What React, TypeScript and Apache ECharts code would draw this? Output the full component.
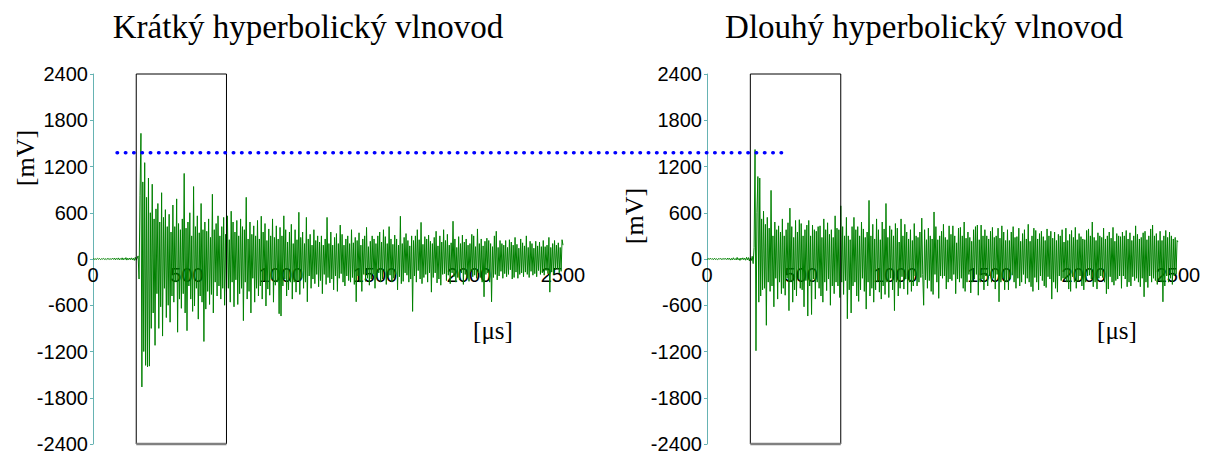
import React, { useEffect, useRef } from "react";
import * as echarts from "echarts";

const SAMPLE_STEP_US = 5;

// Short hyperbolic waveguide signal [mV], one sample every 5 µs from 0 µs (20 samples per row = 100 µs)
const SHORT_MV = [
  0, 4, -6, 3, -5, 8, -4, 6, -7, 3, -2, 7, -5, 4, -8, 6, -3, 5, -6, 4,
  -4, 9, -6, 12, -10, 7, -5, 14, -11, 6, -8, 15, -12, 9, -6, 18, -14, 10, -9, 13,
  -8, 15, -12, 10, -18, 22, -15, 12, 40, -260, 820, 1630, -1660, 1000, -1200, 1250, -1380, 800, -1400, 1050,
  -1390, 600, -900, 970, -700, 520, -1120, 650, -450, 720, -900, 480, -620, 860, -1000, 540, -380, 640, -760, 420,
  -600, 580, -820, 350, -480, 700, -560, 420, -300, 780, -950, 460, -520, 380, -640, 520, -450, 1110, -700, 400,
  -930, 480, -350, 600, -520, 300, -680, 940, -610, 420, -380, 560, -780, 340, -480, 720, -560, 380, -1070, 480,
  -650, 360, -420, 520, -590, 280, -460, 840, -700, 380, -300, 460, -480, 560, -350, 300, -520, 420, -380, 540,
  -600, 320, -420, 560, -380, 250, -560, 620, -300, 480, -620, 350, -270, 500, -590, 300, -450, 520, -380, 420,
  -800, 380, -300, 800, -520, 260, -420, 480, -700, 320, -250, 430, -560, 300, -380, 500, -480, 260, -350, 555,
  -520, 350, -280, 460, -610, 240, -390, 390, -470, 300, -260, 520, -560, 280, -340, 430, -300, 260, -710, 410,
  -740, 300, -350, 560, -260, 380, -480, 220, -400, 350, -300, 450, -520, 200, -300, 380, -430, 250, -280, 606,
  -460, 280, -250, 350, -380, 200, -300, 540, -555, 260, -220, 320, -380, 180, -260, 380, -320, 240, -200, 300,
  -360, 220, -280, 300, -450, 180, -200, 260, -330, 540, -240, 200, -310, 350, -260, 180, -400, 280, -220, 330,
  -420, 200, -250, 440, -190, 320, -300, 180, -350, 260, -220, 300, -280, 200, -300, 380, -240, 210, -330, 280,
  -555, 240, -220, 340, -300, 180, -420, 260, -200, 300, -290, 410, -250, 160, -340, 230, -260, 300, -200, 260,
  -380, 200, -240, 300, -180, 350, -300, 220, -260, 380, -160, 290, -330, 200, -240, 420, -210, 260, -300, 190,
  -250, 310, -200, 260, -400, 180, -230, 555, -320, 200, -290, 280, -180, 330, -210, 240, -300, 170, -260, 300,
  -680, 240, -220, 300, -300, 380, -150, 250, -260, 475, -320, 190, -240, 290, -200, 260, -300, 310, -180, 230,
  -430, 200, -240, 280, -180, 360, -310, 170, -260, 300, -340, 220, -200, 380, -190, 240, -280, 320, -210, 180,
  -320, 210, -180, 490, -230, 260, -300, 150, -240, 290, -270, 200, -180, 310, -330, 220, -200, 260, -250, 180,
  -290, 200, -160, 320, -230, 300, -210, 160, -250, 390, -180, 200, -240, 260, -300, 170, -490, 230, -200, 270,
  -180, 240, -300, 200, -555, 160, -240, 300, -200, 360, -270, 150, -220, 240, -160, 200, -250, 180, -190, 240,
  -230, 150, -200, 250, -140, 220, -260, 180, -240, 280, -170, 190, -250, 140, -200, 260, -180, 210, -230, 170,
  -170, 300, -200, 150, -240, 230, -160, 200, -210, 140, -190, 230, -230, 170, -150, 220, -200, 160, -180, 240,
  -210, 160, -150, 180, -190, 280, -430, 150, -170, 200, -200, 240, -140, 180, -130, 210, -180, 150, -160, 250,
  180,
];

// Long hyperbolic waveguide signal [mV], one sample every 5 µs from 0 µs (20 samples per row = 100 µs)
const LONG_MV = [
  0, -4, 6, -3, 8, -5, 4, -7, 10, -6, 3, -8, 5, -4, 9, -6, 4, -5, 7, -3,
  6, -8, 12, -5, 9, -14, 7, -10, 16, -8, 5, -12, 20, -10, 8, -18, 12, -7, 15, -9,
  10, -16, 22, -12, 18, -25, 14, -20, 35, -60, 150, 1420, -1190, 600, 1070, -560, 1050, -480, 520, -400,
  620, -380, 450, -860, 540, -300, 400, -420, 890, -350, 300, -620, 480, -250, 380, -520, 430, -300, 350, -450,
  520, -380, 300, -470, 380, -250, 470, -670, 660, -300, 420, -560, 280, -400, 500, -480, 350, -260, 510, -380,
  460, -400, 300, -620, 380, -280, 440, -740, 500, -350, 300, -720, 440, -260, 380, -520, 360, -300, 420, -380,
  430, -480, 280, -560, 520, -300, 380, -410, 470, -260, 320, -600, 380, -350, 280, -450, 560, -300, 400, -350,
  380, -500, 690, -300, 420, -460, 300, -280, 540, -775, 300, -400, 250, -700, 420, -350, 540, -300, 380, -480,
  420, -550, 300, -400, 480, -250, 390, -420, 280, -650, 350, -300, 760, -480, 300, -380, 450, -560, 260, -400,
  520, -300, 380, -430, 250, -520, 480, -350, 390, -460, 720, -300, 280, -500, 430, -250, 380, -400, 300, -670,
  460, -300, 400, -480, 220, -380, 520, -230, 300, -390, 450, -260, 350, -460, 260, -300, 380, -420, 240, -350,
  460, -220, 300, -350, 280, -300, 350, -240, 530, -200, -600, 380, -270, 250, -380, 400, -280, 300, -420, 260,
  -460, 610, -200, 420, -300, 250, -510, 300, -220, 360, -250, 450, -220, 280, -390, 250, -300, 430, -260, 320,
  -280, 430, -200, 300, -450, 210, -260, 400, -300, 410, -250, 300, -380, 480, -420, 270, -300, 350, -200, 280,
  -440, 230, -300, 380, -260, 420, -200, 440, -470, 250, -300, 440, -260, 300, -400, 380, -220, 300, -350, 260,
  -220, 360, -300, 410, -250, 280, -390, 300, -200, 400, -555, 270, -300, 430, -250, 350, -400, 240, -300, 380,
  -400, 240, -260, 350, -210, 420, -300, 280, -380, 290, -250, 400, -350, 230, -300, 330, -200, 380, -320, 260,
  -250, 450, -300, 230, -360, 300, -420, 400, -240, 370, -300, 260, -400, 330, -220, 360, -280, 290, -350, 240,
  -370, 390, -230, 300, -260, 360, -520, 270, -300, 350, -380, 240, -430, 320, -220, 300, -280, 380, -250, 220,
  -260, 400, -300, 240, -390, 320, -420, 370, -230, 280, -300, 410, -380, 250, -290, 330, -220, 290, -350, 260,
  -400, 250, -300, 370, -220, 390, -210, 300, -260, 480, -360, 280, -300, 240, -390, 340, -250, 300, -220, 280,
  -240, 400, -300, 260, -450, 300, -390, 350, -230, 270, -300, 410, -340, 230, -280, 330, -260, 300, -220, 290,
  -380, 350, -220, 300, -260, 370, -360, 260, -300, 340, -350, 240, -230, 300, -280, 430, -250, 320, -300, 260,
  -360, 280, -250, 340, -490, 360, -300, 250, -370, 300, -220, 390, -300, 440, -250, 300, -280, 330, -330, 240,
  -280, 360, -300, 240, -555, 300, -350, 370, -220, 280, -300, 350, -250, 300, -330, 260, -220, 280, -200, 240,
  220,
];

const TITLES = ["Krátký hyperbolický vlnovod", "Dlouhý hyperbolický vlnovod"];
const X_UNIT = "[μs]";
const Y_UNIT = "[mV]";
const X_MIN = 0;
const X_MAX = 2500;
const X_INTERVAL = 500;
const Y_MIN = -2400;
const Y_MAX = 2400;
const Y_INTERVAL = 600;
const BOX_US = [230, 710];
const THRESHOLD_MV = 1380;
const THRESHOLD_FROM_US = 128; // left chart
const THRESHOLD_TO_US = 415; // right chart

const GREEN = "#008000";
const TEAL = "#66b3b3";
const SANS = "Liberation Sans, Arial, sans-serif";
const SERIF = "Liberation Serif, Times New Roman, serif";

function toPairs(values: number[]) {
  return values.map((v, i) => [i * SAMPLE_STEP_US, v]);
}

function boxSides() {
  return [
    [BOX_US[0], Y_MIN],
    [BOX_US[0], Y_MAX],
    [BOX_US[1], Y_MAX],
    [BOX_US[1], Y_MIN],
  ];
}

function boxBottom() {
  return [
    [BOX_US[0], Y_MIN],
    [BOX_US[1], Y_MIN],
  ];
}

export default function App() {
  const ref = useRef<HTMLDivElement>(null);

  useEffect(() => {
    if (!ref.current) return;
    const chart = echarts.init(ref.current, undefined, { renderer: "svg" });

    const PLOT_H = 372;
    const grids = [
      { left: 93, top: 74, width: 470, height: PLOT_H },
      { left: 707, top: 74, width: 471, height: PLOT_H },
    ];

    const xAxis = grids.map((_, i) => ({
      type: "value",
      gridIndex: i,
      min: X_MIN,
      max: X_MAX,
      interval: X_INTERVAL,
      position: "bottom",
      offset: -PLOT_H / 2,
      axisLine: { show: false, onZero: false },
      axisTick: { show: false },
      splitLine: { show: false },
      axisLabel: {
        color: "#000",
        fontSize: 20,
        fontFamily: SANS,
        margin: 7,
        showMaxLabel: true,
        showMinLabel: true,
        formatter: (v: number) => String(v),
      },
    }));

    const yAxis = grids.map((_, i) => ({
      type: "value",
      gridIndex: i,
      min: Y_MIN,
      max: Y_MAX,
      interval: Y_INTERVAL,
      axisLine: { show: true, onZero: false, lineStyle: { color: TEAL, width: 1 } },
      axisTick: { show: true, length: 3, lineStyle: { color: TEAL } },
      splitLine: { show: false },
      axisLabel: {
        color: "#000",
        fontSize: 20,
        fontFamily: SANS,
        margin: 5,
        formatter: (v: number) => String(v),
      },
    }));

    const signals = [SHORT_MV, LONG_MV];
    const series: any[] = [];
    signals.forEach((vals, i) => {
      series.push({
        type: "line",
        xAxisIndex: i,
        yAxisIndex: i,
        data: toPairs(vals),
        symbol: "none",
        showSymbol: false,
        lineStyle: { color: GREEN, width: 1 },
        itemStyle: { color: GREEN },
        z: 3,
        silent: true,
      });
      series.push({
        type: "line",
        xAxisIndex: i,
        yAxisIndex: i,
        data: boxSides(),
        symbol: "none",
        showSymbol: false,
        clip: false,
        lineStyle: { color: "#000", width: 1 },
        z: 4,
        silent: true,
      });
      series.push({
        type: "line",
        xAxisIndex: i,
        yAxisIndex: i,
        data: boxBottom(),
        symbol: "none",
        showSymbol: false,
        clip: false,
        lineStyle: { color: "#808080", width: 2.5 },
        z: 4,
        silent: true,
      });
    });

    chart.setOption({
      animation: false,
      grid: grids,
      xAxis,
      yAxis,
      series,
    });

    const p1 = chart.convertToPixel({ gridIndex: 0 } as any, [THRESHOLD_FROM_US, THRESHOLD_MV]) as number[];
    const p2 = chart.convertToPixel({ gridIndex: 1 } as any, [THRESHOLD_TO_US, THRESHOLD_MV]) as number[];

    const titleCenters = [308, 924];
    const yUnitPos = [
      [25, 158],
      [634, 216],
    ];
    const xUnitPos = [
      [493, 330],
      [1117, 330],
    ];

    const graphic: any[] = [];
    TITLES.forEach((t, i) => {
      graphic.push({
        type: "text",
        x: titleCenters[i],
        y: 27,
        style: {
          text: t,
          font: `33px ${SERIF}`,
          fill: "#000",
          textAlign: "center",
          textVerticalAlign: "middle",
        },
      });
      graphic.push({
        type: "text",
        x: yUnitPos[i][0],
        y: yUnitPos[i][1],
        rotation: Math.PI / 2,
        style: {
          text: Y_UNIT,
          font: `26px ${SERIF}`,
          fill: "#000",
          textAlign: "center",
          textVerticalAlign: "middle",
        },
      });
      graphic.push({
        type: "text",
        x: xUnitPos[i][0],
        y: xUnitPos[i][1],
        style: {
          text: X_UNIT,
          font: `25px ${SERIF}`,
          fill: "#000",
          textAlign: "center",
          textVerticalAlign: "middle",
        },
      });
    });
    graphic.push({
      type: "line",
      shape: { x1: p1[0], y1: p1[1], x2: p2[0], y2: p2[1] },
      style: {
        stroke: "#0000ff",
        lineWidth: 3.5,
        lineDash: [0.5, 7.8],
        lineCap: "round",
      },
      z: 10,
      silent: true,
    });

    chart.setOption({ graphic: { elements: graphic } });

    return () => chart.dispose();
  }, []);

  return (
    <div
      ref={ref}
      style={{ position: "absolute", left: 0, top: 0, width: 1209, height: 454 }}
    />
  );
}
